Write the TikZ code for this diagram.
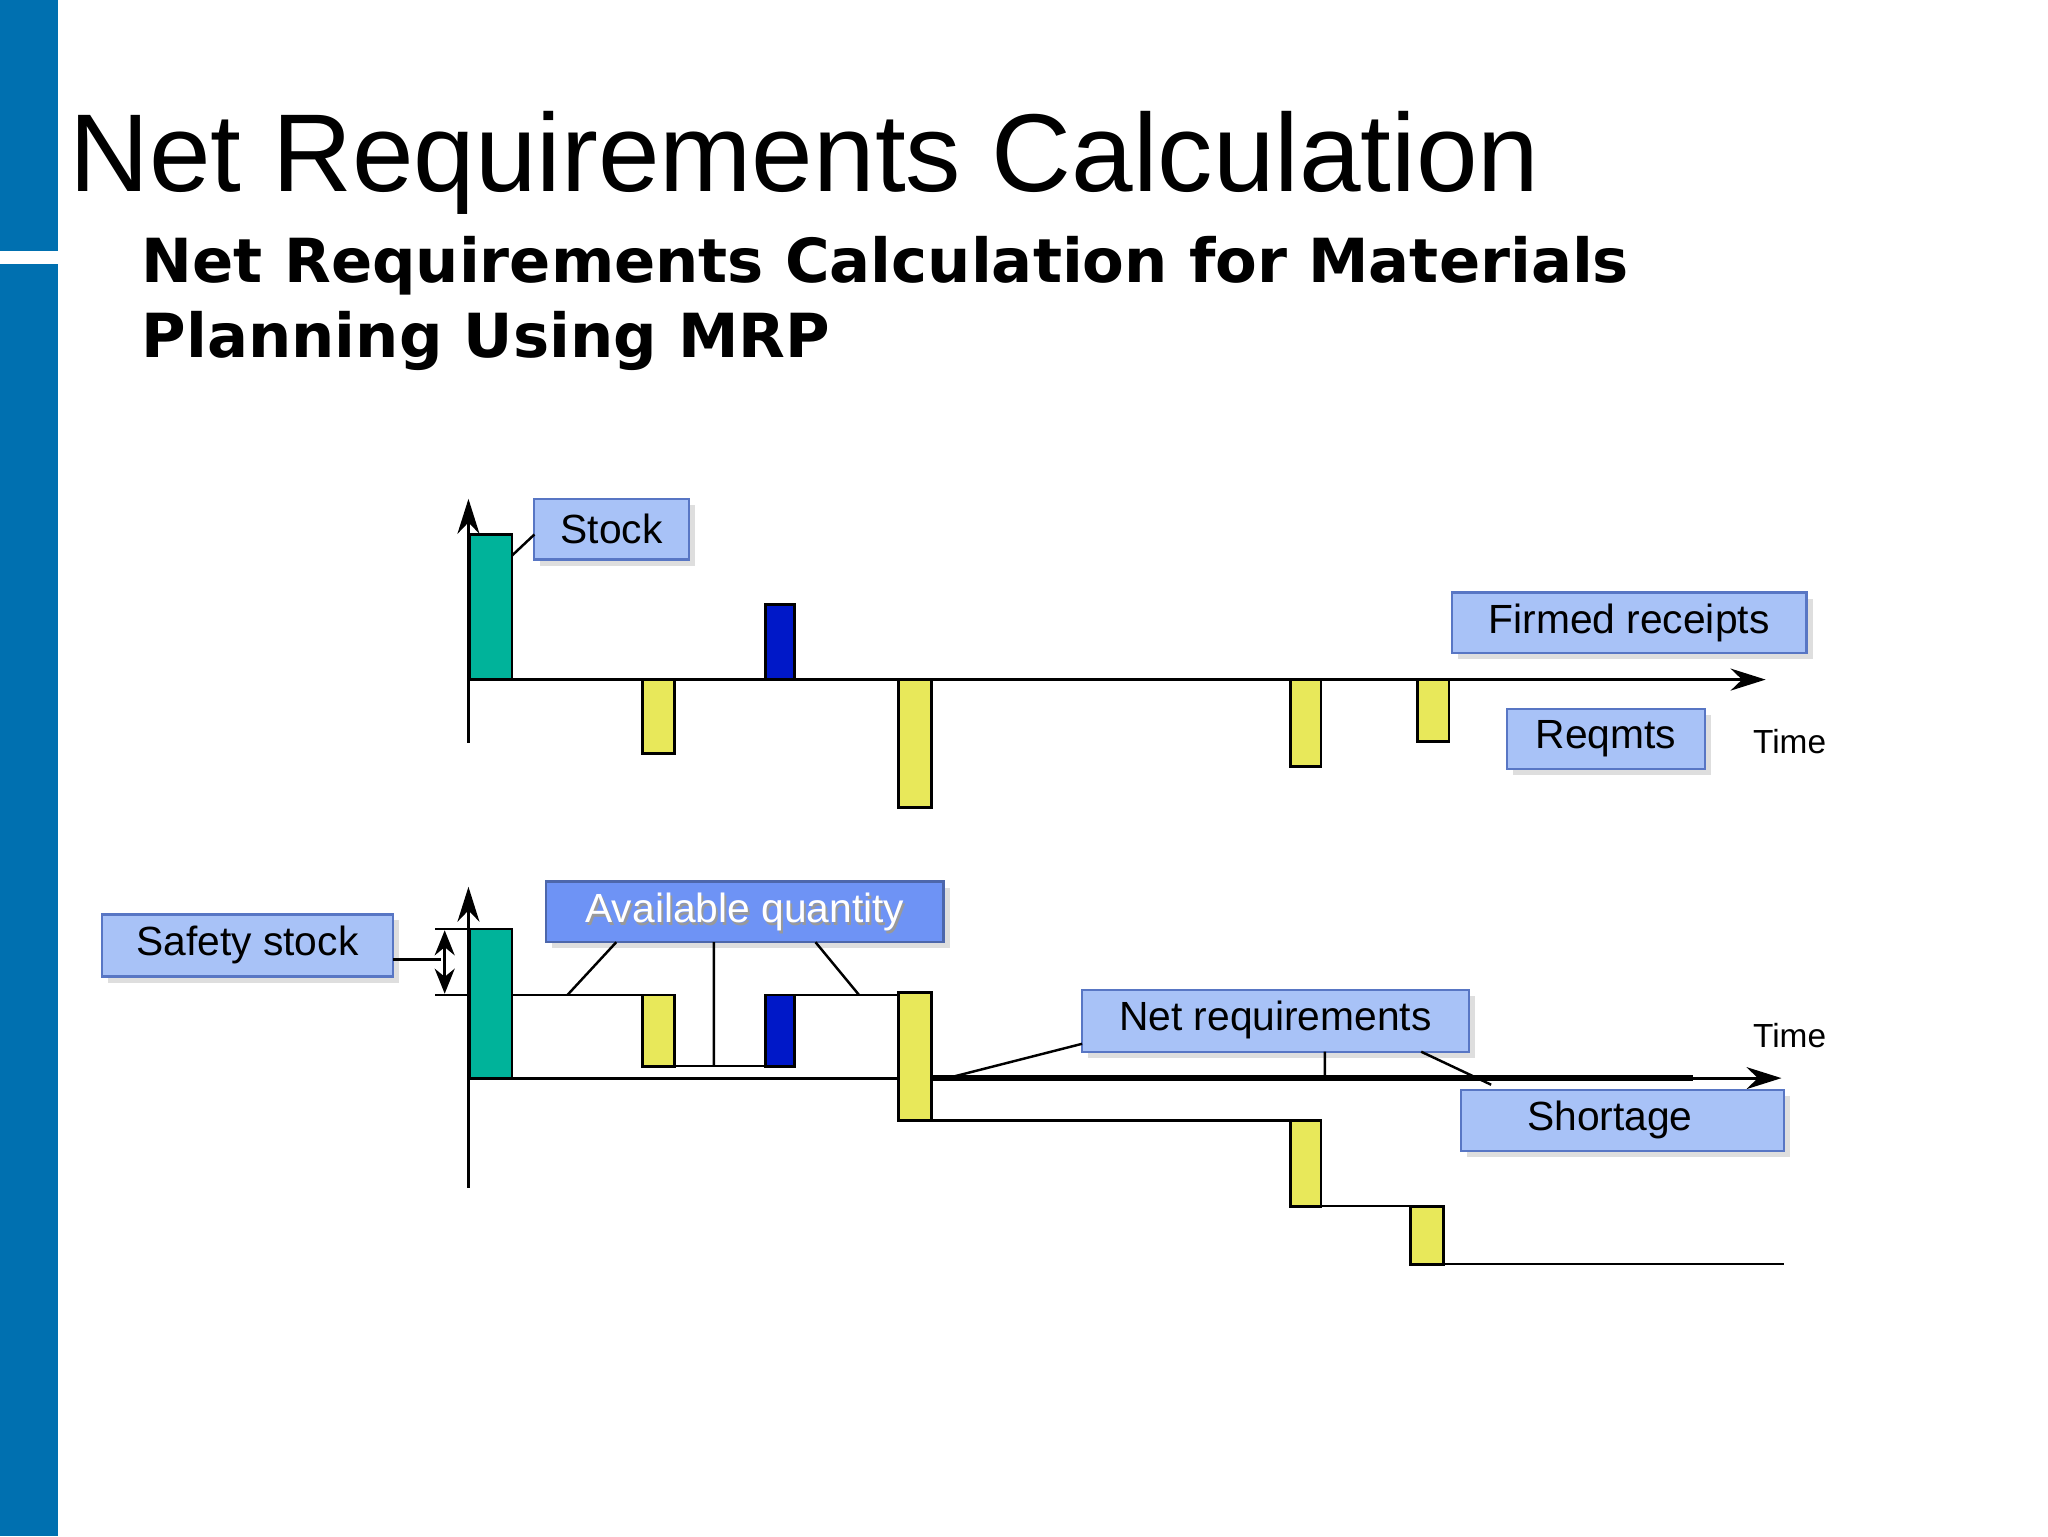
\documentclass[tikz,border=0pt]{standalone}
\usepackage{fontspec}
\setmainfont{Liberation Sans}
\newfontfamily\boldwide{DejaVu Sans}
\usetikzlibrary{arrows.meta,shadows}
\definecolor{sidebar}{HTML}{0070B0}
\definecolor{lbl}{HTML}{A8C2F7}
\definecolor{lbldark}{HTML}{6E93F5}
\definecolor{tealc}{HTML}{00B39A}
\definecolor{bluec}{HTML}{0018C8}
\definecolor{yelc}{HTML}{E8E85A}
\tikzset{
 lab/.style={draw=lbldark!80!black,line width=0.6pt,fill=lbl,drop shadow={shadow xshift=0.6mm,shadow yshift=-0.6mm,fill=black!25}},
 labt/.style={font=\fontsize{11.6}{13}\selectfont},
 bar/.style={draw=black,line width=0.8pt},
 ln/.style={draw=black,line width=0.7pt},
 ax/.style={draw=black,line width=0.8pt,-{Stealth[length=3.5mm,width=2.2mm]}},
}
\begin{document}
\begin{tikzpicture}[x=0.0131959cm,y=-0.0131959cm]
\useasboundingbox (0,0) rectangle (1552,1164);
\fill[white] (0,0) rectangle (1552,1164);
\fill[sidebar] (0,0) rectangle (44,190);
\fill[sidebar] (0,200) rectangle (44,1164);
\node[anchor=base west,inner sep=0,font=\fontsize{31.5}{36}\selectfont] (title) at (52,145) {Net Requirements Calculation};
\node[anchor=base west,inner sep=0,align=left,font=\boldwide\bfseries\fontsize{17.3}{21.5}\selectfont] (sub) at (107,271) {Net Requirements Calculation for Materials\\Planning Using MRP};

% top chart
\draw[ax] (355,563) -- (355,378);
\draw[ax] (355,515) -- (1338,515);
\draw[bar,fill=tealc] (356,405) rectangle (388,515);
\draw[bar,fill=yelc] (487,515) rectangle (511,571);
\draw[bar,fill=bluec] (580,458) rectangle (602,515);
\draw[bar,fill=yelc] (681,515) rectangle (706,612);
\draw[bar,fill=yelc] (978,515) rectangle (1001,581);
\draw[bar,fill=yelc] (1074,515) rectangle (1098,562);
\draw[lab] (405,378) rectangle (522,424);
\node[labt] (stockt) at (463.5,401) {Stock};
\draw[ln] (388,421) -- (405,405);
\draw[lab] (1100,449) rectangle (1369,495);
\node[labt] (firm) at (1234.5,472) {Firmed receipts};
\draw[lab] (1142,537) rectangle (1292,583);
\node[labt] (req) at (1217,560) {Reqmts};
\node[anchor=west,inner sep=0,font=\fontsize{9.5}{11}\selectfont] (time1) at (1328,562) {Time};

% bottom chart
\draw[ax] (355,900) -- (355,672);
\draw[ax] (355,817) -- (1350,817);
\draw[line width=1.6pt] (706,817) -- (1283,817);
\draw[bar,fill=tealc] (356,704) rectangle (388,817);
\draw[ln] (330,704) -- (355,704) (330,754) -- (355,754);
\draw[line width=0.8pt,{Stealth[length=2.5mm,width=2mm]}-{Stealth[length=2.5mm,width=2mm]}] (337,705) -- (337,753);
\draw[lab] (77,693) rectangle (298,740);
\node[labt] (safety) at (187.5,716) {Safety stock};
\draw[ln] (298,727) -- (334,727);
\draw[ln] (388,754) -- (487,754) (511,808) -- (580,808) (602,754) -- (681,754)
  (706,849) -- (978,849) (1001,914) -- (1069,914) (1094,958) -- (1352,958);
\draw[bar,fill=yelc] (487,754) rectangle (511,808);
\draw[bar,fill=bluec] (580,754) rectangle (602,808);
\draw[bar,fill=yelc] (681,752) rectangle (706,849);
\draw[bar,fill=yelc] (978,849) rectangle (1001,914);
\draw[bar,fill=yelc] (1069,914) rectangle (1094,958);
\draw[lab,fill=lbldark,draw=lbldark!70!black] (414,668) rectangle (715,714);
\node[labt,text=black!40] at (566,693) {Available quantity};
\node[labt,text=white] (avail) at (564.5,691) {Available quantity};
\draw[ln] (467,714) -- (430,754) (541,714) -- (541,808) (618,714) -- (651,754);
\draw[lab] (820,750) rectangle (1113,797);
\node[labt] (netr) at (966.5,773) {Net requirements};
\draw[ln] (820,791) -- (718,817) (1004,797) -- (1004,817) (1077,797) -- (1130,822);
\draw[lab] (1107,826) rectangle (1352,872);
\node[labt] (short) at (1220,849) {Shortage};
\node[anchor=west,inner sep=0,font=\fontsize{9.5}{11}\selectfont] (time2) at (1328,785) {Time};
\end{tikzpicture}
\end{document}
